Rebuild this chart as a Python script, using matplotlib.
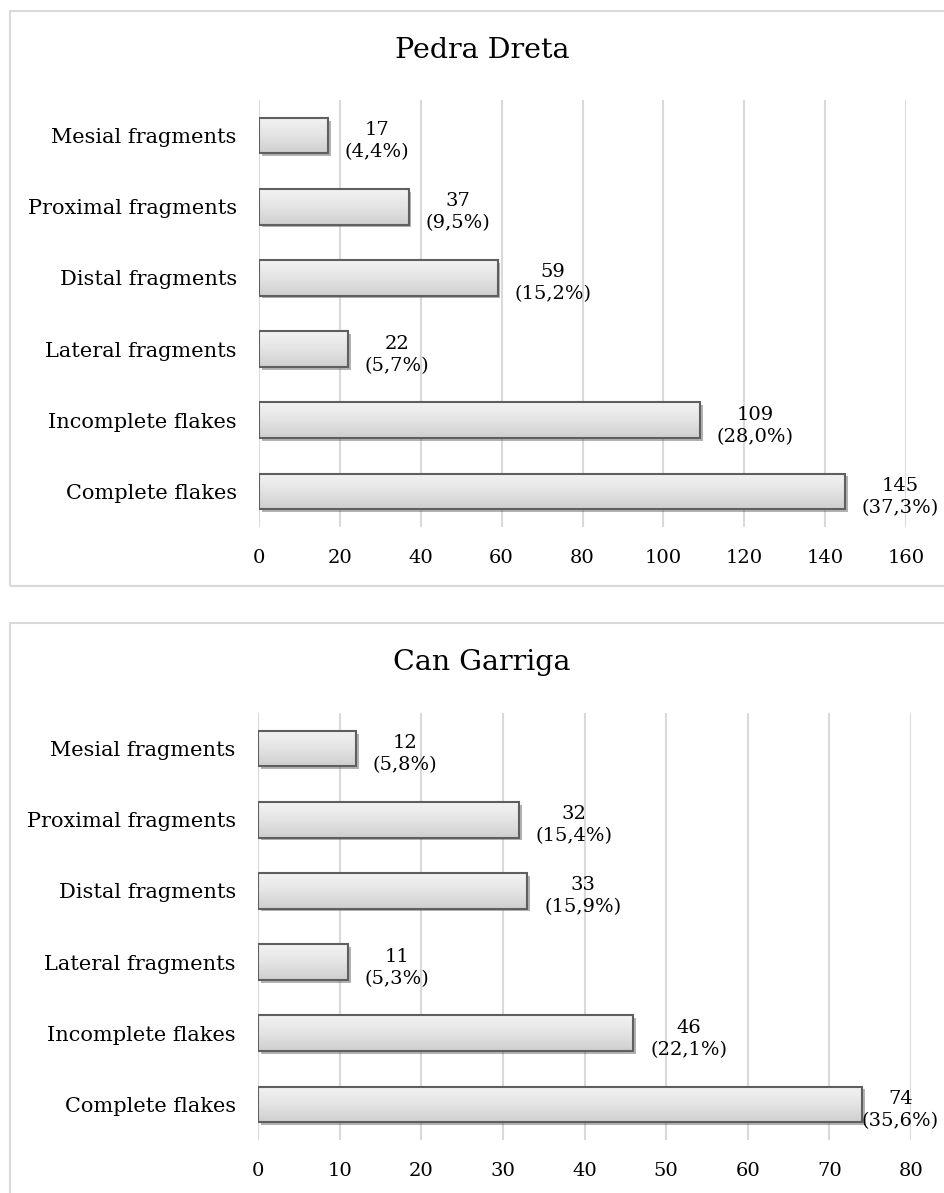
import numpy as np
import matplotlib
matplotlib.use("Agg")
import matplotlib.pyplot as plt
import matplotlib.patheffects as pe
from matplotlib.patches import Rectangle
from matplotlib.colors import LinearSegmentedColormap

# -------------------------------
# Data (bottom to top)
# -------------------------------
categories = ["Complete flakes", "Incomplete flakes", "Lateral fragments",
              "Distal fragments", "Proximal fragments", "Mesial fragments"]

pedra_vals = [145, 109, 22, 59, 37, 17]
pedra_pct = ["37,3%", "28,0%", "5,7%", "15,2%", "9,5%", "4,4%"]

garriga_vals = [74, 46, 11, 33, 32, 12]
garriga_pct = ["35,6%", "22,1%", "5,3%", "15,9%", "15,4%", "5,8%"]

pedra_ticks = [0, 20, 40, 60, 80, 100, 120, 140, 160]
garriga_ticks = [0, 10, 20, 30, 40, 50, 60, 70, 80]

W, H = 944, 1193
plt.rcParams["font.family"] = ["DejaVu Serif"]

fig = plt.figure(figsize=(W / 100, H / 100), dpi=100)

GRID = "#d9d9d9"
EDGE = "#5f5f5f"

# gradient for the bars: light top, darker bottom
grad = np.linspace(0, 1, 64).reshape(-1, 1)
bar_cmap = LinearSegmentedColormap.from_list("bar", ["#cfcfcf", "#e4e4e4", "#f3f3f3"])


def px_box(x0, y_top, x1, y_bot):
    return [x0 / W, 1 - y_bot / H, (x1 - x0) / W, (y_bot - y_top) / H]


def draw_panel(box, frame, title, title_y, vals, pcts, ticks):
    # outer frame of the chart
    fx0, fy_top, fx1, fy_bot = frame
    fig.patches.append(Rectangle((fx0 / W, 1 - fy_bot / H), (fx1 - fx0) / W, (fy_bot - fy_top) / H,
                                 transform=fig.transFigure, fill=False,
                                 edgecolor=GRID, linewidth=1.5, zorder=0))
    fig.text(482 / W, 1 - title_y / H, title, ha="center", va="center", fontsize=20.5)

    ax = fig.add_axes(px_box(*box))
    y = np.arange(len(categories))
    bars = ax.barh(y, vals, height=0.5, color="#e0e0e0", edgecolor="none", zorder=2,
                   path_effects=[pe.SimplePatchShadow(offset=(2, -2), shadow_rgbFace="#555555", alpha=0.45),
                                 pe.Normal()])
    for b in bars:
        im = ax.imshow(grad, cmap=bar_cmap, aspect="auto", zorder=2.5,
                       extent=(b.get_x(), b.get_x() + b.get_width(), b.get_y(), b.get_y() + b.get_height()),
                       origin="lower")
        im.set_clip_path(b)
    ax.barh(y, vals, height=0.5, color="none", edgecolor=EDGE, linewidth=1.5, zorder=3)

    ax.set_xlim(ticks[0], ticks[-1])
    ax.set_ylim(-0.5, len(categories) - 0.5)
    ax.set_xticks(ticks)
    ax.set_yticks(y)
    ax.set_yticklabels(categories, fontsize=15)
    ax.tick_params(axis="both", length=0)
    ax.tick_params(axis="x", pad=16, labelsize=14)
    ax.tick_params(axis="y", pad=16)
    for s in ax.spines.values():
        s.set_visible(False)
    ax.grid(axis="x", color=GRID, linewidth=1.5, zorder=0)
    ax.set_axisbelow(True)

    # data labels: value and share, clamped to the figure edge
    fig.canvas.draw()
    r = fig.canvas.get_renderer()
    for yi, v, p in zip(y, vals, pcts):
        t = ax.annotate(f"{v}\n({p})", xy=(v, yi), xytext=(12, -4), textcoords="offset points",
                        ha="left", va="center", multialignment="center", fontsize=14, zorder=4,
                        linespacing=1.3, annotation_clip=False)
        bb = t.get_window_extent(r)
        if bb.x1 > W - 5:
            t.set_position((12 - (bb.x1 - (W - 5)) * 72 / 100, -4))
    return ax


draw_panel((259, 100, 906, 527), (10, 11, W + 5, 586), "Pedra Dreta", 50,
           pedra_vals, pedra_pct, pedra_ticks)
draw_panel((258, 713, 911, 1140), (10, 623, W + 5, H + 5), "Can Garriga", 662,
           garriga_vals, garriga_pct, garriga_ticks)

fig.savefig("out.png", dpi=100)
